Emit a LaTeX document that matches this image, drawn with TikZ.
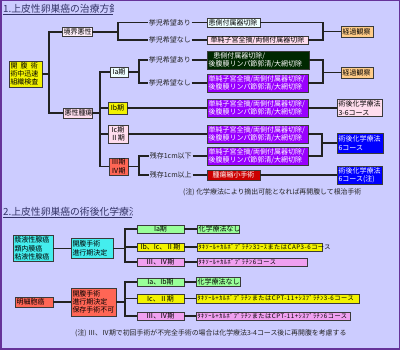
\documentclass[tikz,border=0pt]{standalone}
\usepackage{fontspec}
\setmainfont{Noto Sans CJK JP}
\newfontfamily\widefont[LetterSpace=8]{Noto Sans CJK JP}
\definecolor{bg}{HTML}{CCCCFF}
\definecolor{frame}{HTML}{663399}
\definecolor{ttlc}{HTML}{333366}
\definecolor{cnc}{HTML}{222222}
\definecolor{bdc}{HTML}{3A3A3A}
\definecolor{cYel}{HTML}{F2F200}
\definecolor{cPinkL}{HTML}{FFDDEE}
\definecolor{cWhP}{HTML}{FFF0FA}
\definecolor{cCyL}{HTML}{EEFFFF}
\definecolor{cOra}{HTML}{FFCC88}
\definecolor{cDGr}{HTML}{002800}
\definecolor{cPur}{HTML}{9900FF}
\definecolor{cBlu}{HTML}{0000FF}
\definecolor{cRed}{HTML}{CC0000}
\definecolor{cSal}{HTML}{FF6655}
\definecolor{cCya}{HTML}{44EEEE}
\definecolor{cGrn}{HTML}{99FF99}
\definecolor{cPnk}{HTML}{F0A0F0}
\newcommand{\mkbox}[7]{%
  \pgfmathsetmacro\bxw{#4-#2}%
  \pgfmathsetmacro\bxh{#5-#3}%
  \pgfmathsetmacro\bxt{#4-#2-3}%
  \pgfmathsetmacro\bxcx{(#2+#4)/2}%
  \pgfmathsetmacro\bxcy{(#3+#5)/2}%
  \node[bx,minimum width=\bxw pt,minimum height=\bxh pt,text width=\bxt pt,#6] (#1) at (\bxcx,\bxcy) {#7};}
\begin{document}
\begin{tikzpicture}[x=1pt,y=-1pt,
  bx/.style={draw=bdc,line width=0.6pt,inner xsep=1.5pt,inner ysep=0.3pt,align=left,
    font=\fontsize{7}{8.3}\selectfont},
  ctr/.style={align=center},
  wt/.style={text=white},
  sm/.style={font=\widefont\fontsize{6.2}{7}\selectfont},
  lbl/.style={inner sep=0.6pt,font=\fontsize{7}{8}\selectfont,text=cnc},
  cn/.style={draw=cnc,line width=1.3pt},
  ttl/.style={inner sep=0pt,font=\fontsize{9.8}{11}\selectfont,text=ttlc},
  note/.style={inner sep=0pt,font=\fontsize{6.9}{8}\selectfont,text=cnc}]
\useasboundingbox (0,0) rectangle (400,350);
\fill[bg] (0,0) rectangle (400,350);
\draw[frame,line width=1.6pt] (0.8,0.5) rectangle (399.5,349.2);
% titles
\begin{scope}
\clip (0,0) rectangle (113,20);
\node[ttl,anchor=west] (T1) at (3,8.5) {1.上皮性卵巣癌の治療方針};
\end{scope}
\draw[ttlc,line width=0.6pt] (3,14) -- (113,14);
\begin{scope}
\clip (0,200) rectangle (132,220);
\node[ttl,anchor=west] (T2) at (3,211.5) {2.上皮性卵巣癌の術後化学療法};
\end{scope}
\draw[ttlc,line width=0.6pt] (3,217) -- (132,217);
% ---------------- section 1 boxes
\mkbox{kai}{9}{61}{42}{87}{fill=cYel}{開\hspace{0.45em}腹\hspace{0.45em}術\\術中迅速\\組織検査}
\mkbox{kyo}{62}{27.5}{92}{36.5}{fill=cWhP}{\mbox{境界悪性}}
\mkbox{aku}{63}{108}{92}{118}{fill=cPinkL}{\mbox{悪性腫瘍}}
\node[lbl,anchor=west] (t1) at (148,22.5) {挙児希望あり};
\node[lbl,anchor=west] (t2) at (148,40) {挙児希望なし};
\mkbox{b1}{207}{18}{260}{27}{fill=cCyL}{\mbox{患側付属器切除}}
\mkbox{b2}{207}{36}{308}{44}{fill=cPinkL,ctr}{\mbox{単純子宮全摘/両側付属器切除}}
\mkbox{k1}{341}{26}{373}{37}{fill=cOra}{\mbox{経過観察}}
\mkbox{s1}{110}{67}{128}{77}{fill=cCyL,ctr}{Ia期}
\node[lbl,anchor=west] (t3) at (148,60) {挙児希望あり};
\node[lbl,anchor=west] (t4) at (148,83) {挙児希望なし};
\mkbox{g1}{207}{51}{309}{69}{fill=cDGr,wt}{\hspace{0.7em}患側付属器切除/\\後腹膜リンパ節郭清/大網切除}
\mkbox{p1}{207}{74}{308}{92}{fill=cPur,wt}{単純子宮全摘/両側付属器切除/\\後腹膜リンパ節郭清/大網切除}
\mkbox{k2}{341}{67}{373}{78}{fill=cOra}{\mbox{経過観察}}
\mkbox{s2}{108}{102}{127}{114}{fill=cYel,ctr}{Ib期}
\mkbox{p2}{207}{99}{308}{117}{fill=cPur,wt}{単純子宮全摘/両側付属器切除/\\後腹膜リンパ節郭清/大網切除}
\mkbox{r1}{337}{99.5}{382}{116.5}{fill=cPinkL}{術後化学療法\\3-6コース}
\mkbox{s3}{108}{125}{128}{143}{fill=cPinkL,ctr}{Ic期\\Ⅱ期}
\mkbox{p3}{207}{125}{308}{143}{fill=cPur,wt}{単純子宮全摘/両側付属器切除/\\後腹膜リンパ節郭清/大網切除}
\mkbox{s4}{109}{158}{128}{175}{fill=cSal,ctr}{Ⅲ期\\Ⅳ期}
\node[lbl,anchor=west] (t5) at (149,156) {残存1cm以下};
\node[lbl,anchor=west] (t6) at (149,175) {残存1cm以上};
\mkbox{p4}{207}{147}{308}{165}{fill=cPur,wt}{単純子宮全摘/両側付属器切除/\\後腹膜リンパ節郭清/大網切除}
\mkbox{rd}{207}{170}{260}{180}{fill=cRed,wt,ctr}{\mbox{腫瘍縮小手術}}
\mkbox{r2}{337}{133}{383}{153}{fill=cBlu,wt}{術後化学療法\\6コース}
\mkbox{r3}{337}{166}{382}{184}{fill=cBlu,wt}{術後化学療法\\6コース(注)}
\node[note,anchor=west] (n1) at (183,192) {(注)\ 化学療法により摘出可能となれば再開腹して根治手術};
% connectors section 1
\coordinate (jA) at (49,74);
\coordinate (jB) at (118,32);
\coordinate (jC) at (323,31.5);
\coordinate (jD) at (100,113);
\coordinate (jE) at (139,72);
\coordinate (jF) at (323,72.5);
\coordinate (jG) at (139,166.5);
\coordinate (jH) at (322,143);
\draw[cn] (kai.east) -- (jA);
\draw[cn] (kyo.west) -| (jA) |- (aku.west);
\draw[cn] (kyo.east) -- (jB);
\draw[cn] (t1.west) -| (jB) |- (t2.west);
\draw[cn] (t1.east) -- (b1.west);
\draw[cn] (t2.east) -- (b2.west);
\draw[cn] (b1.east) -| (jC) |- (b2.east);
\draw[cn] (jC) -- (k1.west);
\draw[cn] (aku.east) -- (jD);
\draw[cn] (s1.west) -| (jD) |- (s4.west);
\draw[cn] (s2.west) -- (s2.west -| jD);
\draw[cn] (s3.west) -- (s3.west -| jD);
\draw[cn] (s1.east) -- (jE);
\draw[cn] (t3.west) -| (jE) |- (t4.west);
\draw[cn] (t3.east) -- (g1.west);
\draw[cn] (t4.east) -- (p1.west);
\draw[cn] (g1.east) -| (jF) |- (p1.east);
\draw[cn] (jF) -- (k2.west);
\draw[cn] (s2.east) -- (p2.west);
\draw[cn] (p2.east) -- (r1.west);
\draw[cn] (s3.east) -- (p3.west);
\draw[cn] (s4.east) -- (jG);
\draw[cn] (t5.west) -| (jG) |- (t6.west);
\draw[cn] (t5.east) -- (p4.west);
\draw[cn] (t6.east) -- (rd.west);
\draw[cn] (p3.east) -| (jH) |- (p4.east);
\draw[cn] (jH) -- (r2.west);
\draw[cn] (rd.east) -- (r3.west);
% ---------------- section 2
\mkbox{cy1}{13}{235.5}{53}{261.5}{fill=cCya}{漿液性腺癌\\類内膜癌\\粘液性腺癌}
\mkbox{cy2}{71}{238.5}{113}{258.5}{fill=cCya}{開腹手術\\進行期決定}
\mkbox{ga}{137}{225}{184}{233}{fill=cGrn,ctr}{Ia期}
\mkbox{gb}{137}{243}{184}{251}{fill=cYel,ctr}{\mbox{Ib、Ic、Ⅱ期}}
\mkbox{gc}{137}{258}{184}{266}{fill=cPnk,ctr}{\mbox{Ⅲ、Ⅳ期}}
\mkbox{ha}{197}{225}{239}{233}{fill=cGrn}{\mbox{化学療法なし}}
\mkbox{hb}{197}{243}{322}{251}{fill=cYel,sm}{\mbox{ﾀｷｿｰﾙ+ｶﾙﾎﾞﾌﾟﾗﾁﾝ3ｺｰｽまたはCAP3-6コース}}
\mkbox{hc}{197}{258}{307}{266}{fill=cPnk,sm}{\mbox{ﾀｷｿｰﾙ+ｶﾙﾎﾞﾌﾟﾗﾁﾝ6コース}}
\mkbox{ra}{15}{297}{53}{307}{fill=cSal}{\mbox{明細胞癌}}
\mkbox{rb}{71}{288}{116}{316}{fill=cSal}{開腹手術\\進行期決定\\保存手術不可}
\mkbox{gd}{137}{278}{184}{286}{fill=cGrn,ctr}{\mbox{Ia、Ib期}}
\mkbox{ge}{137}{294}{184}{303}{fill=cYel,ctr}{\mbox{Ic、Ⅱ期}}
\mkbox{gf}{137}{312}{184}{320}{fill=cPnk,ctr}{\mbox{Ⅲ、Ⅳ期}}
\mkbox{hd}{196}{277.5}{240}{286.5}{fill=cGrn}{\mbox{化学療法なし}}
\mkbox{he}{196}{294}{359}{303}{fill=cYel,sm}{\mbox{ﾀｷｿｰﾙ+ｶﾙﾎﾞﾌﾟﾗﾁﾝまたはCPT-11+ｼｽﾌﾟﾗﾁﾝ3-6コース}}
\mkbox{hf}{196}{312}{350}{320}{fill=cPnk,sm}{\mbox{ﾀｷｿｰﾙ+ｶﾙﾎﾞﾌﾟﾗﾁﾝまたはCPT-11+ｼｽﾌﾟﾗﾁﾝ6コース}}
\node[note,anchor=west] (n2) at (75,333) {(注)\ Ⅲ、Ⅳ期で初回手術が不完全手術の場合は化学療法3-4コース後に再開腹を考慮する};
\coordinate (jI) at (125,248.5);
\coordinate (jJ) at (125,302);
\draw[cn] (cy1.east) -- (cy2.west);
\draw[cn] (cy2.east) -- (jI);
\draw[cn] (ga.west) -| (jI) |- (gc.west);
\draw[cn] (gb.west) -- (gb.west -| jI);
\draw[cn] (ga.east) -- (ha.west);
\draw[cn] (gb.east) -- (hb.west);
\draw[cn] (gc.east) -- (hc.west);
\draw[cn] (ra.east) -- (rb.west);
\draw[cn] (rb.east) -- (jJ);
\draw[cn] (gd.west) -| (jJ) |- (gf.west);
\draw[cn] (ge.west) -- (ge.west -| jJ);
\draw[cn] (gd.east) -- (hd.west);
\draw[cn] (ge.east) -- (he.west);
\draw[cn] (gf.east) -- (hf.west);
\end{tikzpicture}
\end{document}
